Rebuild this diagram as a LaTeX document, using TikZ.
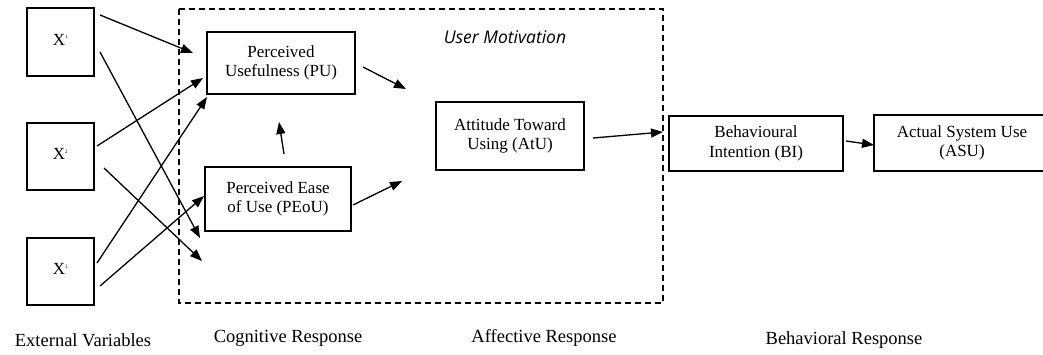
\documentclass[tikz,border=0pt]{standalone}
\usepackage{fontspec}
\setmainfont{Liberation Serif}
\newfontfamily\umfont{Open Sans}
\usetikzlibrary{arrows.meta,calc}
\tikzset{
  box/.style={draw, line width=1.3pt, inner sep=0pt, outer sep=0pt, align=center,
    font=\fontsize{17}{19.5}\selectfont},
  arr/.style={line width=1.3pt, -{Triangle[length=12pt,width=9pt]}},
  captxt/.style={font=\fontsize{18.5}{22}\selectfont},
}
\begin{document}
\begin{tikzpicture}[x=1pt,y=-1pt]
\useasboundingbox[fill=white] (0,0) rectangle (1043,354);
% dashed group
\draw[line width=1.3pt, dash pattern=on 6pt off 4pt] (179,9) rectangle (663,303);
\node[font=\umfont\itshape\fontsize{17.5}{20}\selectfont] (um) at (505,37) {User Motivation};
% external variables
\node[box, minimum width=67pt, minimum height=68pt] (X1) at (60.5,42) {\raisebox{5pt}{X\textsuperscript{\tiny 1}}};
\node[box, minimum width=67pt, minimum height=67pt] (X2) at (60.5,156.5) {\raisebox{5pt}{X\textsuperscript{\tiny 2}}};
\node[box, minimum width=67pt, minimum height=67pt] (X3) at (60.5,271.5) {\raisebox{5pt}{X\textsuperscript{\tiny 3}}};
% constructs
\node[box, minimum width=148pt, minimum height=62pt] (PU) at (281,63) {Perceived\\Usefulness (PU)};
\node[box, minimum width=146pt, minimum height=64pt] (PEoU) at (278,199) {Perceived Ease\\of Use (PEoU)};
\node[box, minimum width=148pt, minimum height=68pt] (AtU) at (510,136) {Attitude Toward\\Using (AtU)};
\node[box, minimum width=174pt, minimum height=55pt] (BI) at (756,143.5) {Behavioural\\Intention (BI)};
\node[box, minimum width=176pt, minimum height=56pt] (ASU) at (962,143) {Actual System Use\\(ASU)};
% free arrow ends
\coordinate (t1) at (193,53);
\coordinate (t2) at (200,238);
\coordinate (t3) at (203,78);
\coordinate (t4) at (202,261);
\coordinate (t5) at (406,89);
\coordinate (t6) at (402,181);
\coordinate (t7) at (663,132);
% connectors
\draw[arr] ([shift={(6,7)}]X1.north east) -- (t1);
\draw[arr] ([shift={(6,10)}]X1.east) -- (t2);
\draw[arr] ([shift={(3,-10.5)}]X2.east) -- (t3);
\draw[arr] ([shift={(10,11.5)}]X2.east) -- (t4);
\draw[arr] ([shift={(3,-8.5)}]X3.east) -- ([shift={(0,3)}]PU.south west);
\draw[arr] ([shift={(6,14.5)}]X3.east) -- ([shift={(-1,-3)}]PEoU.west);
\draw[arr] ([shift={(6,-13)}]PEoU.north) -- ([shift={(-2,28)}]PU.south);
\draw[arr] ([shift={(8,4)}]PU.east) -- (t5);
\draw[arr] ([shift={(2,6)}]PEoU.east) -- (t6);
\draw[arr] ([shift={(9,2)}]AtU.east) -- (t7);
\draw[arr] ([shift={(3,-2.5)}]BI.east) -- ([yshift=-2pt]ASU.west);
% captions
\node[captxt] (c1) at (83,340) {External Variables};
\node[captxt] (c2) at (288,338) {Cognitive Response};
\node[captxt] (c3) at (544,338) {Affective Response};
\node[captxt] (c4) at (844,340) {Behavioral Response};
\end{tikzpicture}
\end{document}
